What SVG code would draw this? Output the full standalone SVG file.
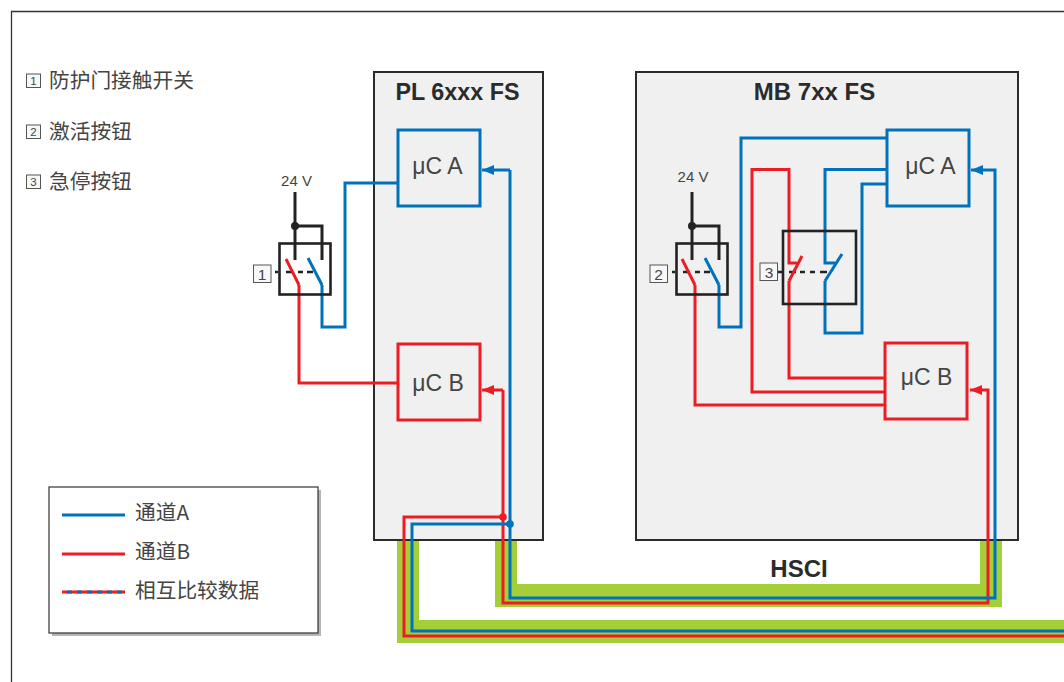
<svg xmlns="http://www.w3.org/2000/svg" width="1064" height="682" viewBox="0 0 1064 682">
<style>
text{font-family:"Liberation Sans","Noto Sans CJK SC",sans-serif;fill:#444}
.cjk{font-family:"Noto Sans CJK SC",sans-serif;font-size:20.700px;font-weight:400}
.title{font-size:24px;font-weight:700;fill:#2b2b2b}
.uc{font-size:23px;text-anchor:middle}
.v{font-size:15px;text-anchor:middle}
.n{font-size:15.500px;text-anchor:middle}
.ns{font-size:11.500px;text-anchor:middle}
.unit{fill:#f0f0f0;stroke:#2b2b2b;stroke-width:2}
.a{fill:none;stroke:#0072bc;stroke-width:3}
.b{fill:none;stroke:#ed1c24;stroke-width:3}
.k{fill:none;stroke:#222;stroke-width:3}
.sw{fill:none;stroke:#222;stroke-width:2.600}
.dash{fill:none;stroke:#222;stroke-width:2.400}
.lb{fill:#f8f8f8;stroke:#555;stroke-width:1}
.g{fill:#a5cf39}
</style>
<defs>
<marker id="ma" markerUnits="userSpaceOnUse" markerWidth="13" markerHeight="10" refX="12" refY="5" orient="auto"><path d="M0 0L12 5L0 10z" fill="#0072bc"/></marker>
<marker id="mb" markerUnits="userSpaceOnUse" markerWidth="13" markerHeight="10" refX="12" refY="5" orient="auto"><path d="M0 0L12 5L0 10z" fill="#ed1c24"/></marker>
</defs>
<rect width="1064" height="682" fill="#fff"/>
<path d="M11.500 682V11.500H1064" fill="none" stroke="#333" stroke-width="1.300"/>
<g id="hsci">
<path class="g" d="M397 540H419V620H1064V643H397z"/>
<path class="g" d="M495 540H517V584H980V540H1002V607H495z"/>
<text x="799" y="577" class="title" text-anchor="middle">HSCI</text>
</g>
<g id="pl">
<rect class="unit" x="374" y="72" width="169" height="468"/>
<text x="457.500" y="100" class="title" text-anchor="middle" style="font-size:23.300px">PL 6xxx FS</text>
</g>
<g id="mb7">
<rect class="unit" x="636" y="72" width="382" height="468"/>
<text x="814.500" y="100" class="title" text-anchor="middle">MB 7xx FS</text>
</g>
<g id="connectors">
<path class="a" d="M322 285V327H345V183H398"/>
<path class="b" d="M299 285V383H398"/>
<path class="a" d="M719 285V327H741V138H887"/>
<path class="b" d="M695 285V405H885"/>
<path class="b" d="M885 392H752V169.500H789V263H797"/>
<path class="b" d="M789 281V378H885"/>
<path class="a" d="M887 169.500H825V263H835"/>
<path class="a" d="M825 281V333H862V184H887"/>
<path class="k" d="M295 192V260M295 226H322V260"/>
<path class="k" d="M692 192V260M692 226H719V260"/>
<path class="b" d="M503 390H482" marker-end="url(#mb)"/>
<path class="b" d="M1064 636H404V517H503M503 390V603H988V390H970" marker-end="url(#mb)"/>
<path class="a" d="M510 170H482" marker-end="url(#ma)"/>
<path class="a" d="M1064 631H412V524H510M510 170V598H995V170H971" marker-end="url(#ma)"/>
<circle cx="503" cy="517" r="3.800" fill="#ed1c24"/>
<circle cx="510" cy="524" r="3.800" fill="#0072bc"/>
<circle cx="295" cy="226" r="4" fill="#222"/>
<circle cx="692" cy="226" r="4" fill="#222"/>
</g>
<g id="pl-uca"><rect x="398" y="130" width="82" height="76" fill="#f0f0f0" stroke="#0072bc" stroke-width="3"/><text x="437.500" y="174" class="uc">μC A</text></g>
<g id="pl-ucb"><rect x="398" y="344" width="82" height="76" fill="#f0f0f0" stroke="#ed1c24" stroke-width="3"/><text x="438" y="391" class="uc">μC B</text></g>
<g id="mb-uca"><rect x="887" y="130" width="82" height="76" fill="#f0f0f0" stroke="#0072bc" stroke-width="3"/><text x="930.500" y="174" class="uc">μC A</text></g>
<g id="mb-ucb"><rect x="885" y="343" width="82" height="76" fill="#f0f0f0" stroke="#ed1c24" stroke-width="3"/><text x="926.500" y="385" class="uc">μC B</text></g>
<g id="switch1">
<text x="296.500" y="186" class="v">24 V</text>
<rect class="sw" x="279.500" y="243.500" width="51" height="51"/>
<path class="dash" d="M275 272H278M286 272H293M298 272H303M307 272H313"/>
<path class="b" d="M286 259L299 285"/><path class="a" d="M308 258L322 285"/>
<rect class="lb" x="253.500" y="265" width="17.500" height="17.500"/><text x="262" y="279.500" class="n">1</text>
</g>
<g id="switch2">
<text x="693" y="182" class="v">24 V</text>
<rect class="sw" x="676.500" y="243.500" width="51" height="51"/>
<path class="dash" d="M672 272H675M683 272H690M695 272H700M704 272H710"/>
<path class="b" d="M682 259L695 285"/><path class="a" d="M705 258L719 285"/>
<rect class="lb" x="650" y="265" width="17.500" height="17.500"/><text x="658.500" y="279.500" class="n">2</text>
</g>
<g id="switch3">
<rect class="sw" x="783" y="231" width="73" height="73"/>
<path class="dash" d="M778 272H782M789 272H796M800 272H805M810 272H815M820 272H827"/>
<path class="b" d="M802 256L789 281"/><path class="a" d="M842 254L825 281"/>
<rect class="lb" x="760" y="263" width="17.500" height="17.500"/><text x="769" y="277.500" class="n">3</text>
</g>
<g id="key">
<rect class="lb" x="26.500" y="74" width="14" height="13.500"/><text x="33.500" y="85" class="ns">1</text>
<text x="49" y="88" class="cjk">防护门接触开关</text>
<rect class="lb" x="26.500" y="125" width="14" height="13.500"/><text x="33.500" y="136" class="ns">2</text>
<text x="49" y="139" class="cjk">激活按钮</text>
<rect class="lb" x="26.500" y="175" width="14" height="13.500"/><text x="33.500" y="186" class="ns">3</text>
<text x="49" y="189" class="cjk">急停按钮</text>
</g>
<g id="legend">
<rect x="52" y="490" width="269" height="146" fill="#b5b5bb"/>
<rect x="49" y="487" width="269" height="146" fill="#fff" stroke="#333" stroke-width="1.200"/>
<path d="M62 515H125" stroke="#0072bc" stroke-width="3" fill="none"/>
<path d="M62 554H125" stroke="#ed1c24" stroke-width="3" fill="none"/>
<path d="M62 592H125" stroke="#ed1c24" stroke-width="3" fill="none"/>
<path d="M67 592H125" stroke="#0072bc" stroke-width="3" stroke-dasharray="5 5" fill="none"/>
<text x="135" y="520" class="cjk">通道A</text>
<text x="135" y="559" class="cjk">通道B</text>
<text x="135" y="598" class="cjk">相互比较数据</text>
</g>
</svg>
